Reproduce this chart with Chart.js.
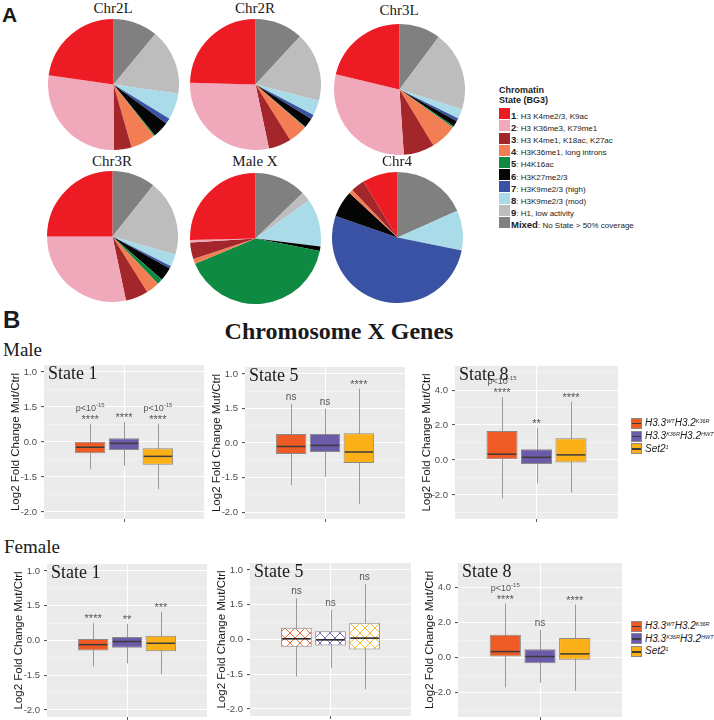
<!DOCTYPE html>
<html>
<head>
<meta charset="utf-8">
<script src="https://cdn.jsdelivr.net/npm/chart.js@4.4.1/dist/chart.umd.min.js"></script>
<style>
  body { margin: 0; width: 714px; height: 720px; position: relative; background: #fff; overflow: hidden; }
  canvas { position: absolute; }
  .t { position: absolute; white-space: nowrap; line-height: 1; color: #1a1a1a; }
  .sw { position: absolute; }
  sup { font-size: 0.55em; vertical-align: 0.6em; line-height: 0; }
</style>
</head>
<body>
<script>
// ---------- data ----------
// chromatin states, legend order
const stateNums = ['1', '2', '3', '4', '5', '6', '7', '8', '9', 'Mixed'];
const stateNames = ['H3 K4me2/3, K9ac', 'H3 K36me3, K79me1', 'H3 K4me1, K18ac, K27ac', 'H3K36me1, long introns',
  'H4K16ac', 'H3K27me2/3', 'H3K9me2/3 (high)', 'H3K9me2/3 (mod)', 'H1, low activity', 'No State > 50% coverage'];
const stateColors = ['#ED1C24', '#F0A9BA', '#A3262B', '#F37E54', '#0E8A43', '#050505', '#3A52A3', '#A9DBE9', '#BDBDBD', '#808080'];

// % of each chromosome in each state (same order as above)
const chromosomes = ['Chr2L', 'Chr2R', 'Chr3L', 'Chr3R', 'Male X', 'Chr4'];
const chr2L = [22.7, 27.3, 4.4, 6.1, 0.3, 4.0, 1.4, 6.5, 16.2, 11.0];
const chr2R = [24.6, 28.7, 5.6, 4.7, 0.2, 2.4, 1.1, 3.7, 17.1, 11.9];
const chr3L = [21.3, 29.8, 7.6, 6.5, 0.4, 1.4, 0.8, 2.4, 19.7, 10.2];
const chr3R = [25.0, 28.3, 5.6, 3.3, 1.4, 3.3, 0.6, 3.0, 18.8, 10.7];
const maleX = [25.4, 0.6, 4.1, 1.2, 40.7, 1.1, 0.0, 11.8, 2.4, 12.8];
const chr4 = [8.7, 0.0, 3.4, 1.0, 0.0, 6.6, 52.1, 9.9, 0.0, 18.3];

// box plots: [lower whisker, Q1, median, Q3, upper whisker] per genotype
const genotypes = ['H3.3<sup>WT</sup>H3.2<sup>K36R</sup>', 'H3.3<sup>K36R</sup>H3.2<sup>HWT</sup>', 'Set2<sup>1</sup>'];
const genoColors = ['#EF5B24', '#6C5BA8', '#FCB017'];
const male1 = [[-0.78, -0.32, -0.15, 0.01, 0.52], [-0.68, -0.23, -0.04, 0.11, 0.58], [-1.35, -0.65, -0.41, -0.18, 0.52]];
const male5 = [[-1.22, -0.32, -0.10, 0.26, 1.13], [-0.98, -0.26, -0.07, 0.26, 0.99], [-1.76, -0.58, -0.26, 0.28, 1.57]];
const male8 = [[-2.19, 0.04, 0.33, 1.66, 3.60], [-1.33, -0.23, 0.15, 0.61, 1.85], [-1.87, -0.15, 0.29, 1.24, 3.33]];
const female1 = [[-0.75, -0.29, -0.12, 0.04, 0.50], [-0.66, -0.21, -0.03, 0.10, 0.48], [-0.97, -0.31, -0.08, 0.14, 0.82]];
const female5 = [[-1.06, -0.21, 0.02, 0.34, 1.18], [-0.82, -0.17, -0.01, 0.24, 0.85], [-1.43, -0.29, 0.04, 0.48, 1.59]];
const female8 = [[-1.69, 0.06, 0.34, 1.30, 3.07], [-1.43, -0.32, 0.06, 0.48, 1.58], [-1.89, -0.13, 0.21, 1.11, 3.01]];
const male1Sig = ['****', '****', '****'];
const male5Sig = ['ns', 'ns', '****'];
const male8Sig = ['****', '**', '****'];
const female1Sig = ['****', '**', '***'];
const female5Sig = ['ns', 'ns', 'ns'];
const female8Sig = ['****', 'ns', '****'];
const male1P = [true, false, true];
const male8P = [true, false, false];
const female8P = [true, false, false];
const noP = [false, false, false];

// y tick labels (as printed in the figure)
const foldTicks = [-2, -1, 0, 1, 2];
const foldTickLabels = ['-2.0', '-1.5', '0.0', '1.5', '1.0'];
const s8Ticks = [-2, 0, 2, 4];
const s8TickLabels = ['-2.0', '0.0', '2.0', '4.0'];

// ---------- helpers ----------
function text(html, x, base, size, font, align) {
  const d = document.createElement('div');
  d.className = 't';
  d.innerHTML = html;
  d.style.font = font.replace('SZ', size + 'px');
  d.style.lineHeight = '1';
  d.style.top = (base - 0.84 * size) + 'px';
  d.style.left = x + 'px';
  if (align === 'center') d.style.transform = 'translateX(-50%)';
  document.body.appendChild(d);
  return d;
}
function makeCanvas(x, y, w, h) {
  const c = document.createElement('canvas');
  c.width = w; c.height = h;
  c.style.left = x + 'px'; c.style.top = y + 'px';
  document.body.appendChild(c);
  return c;
}
const SERIF = 'SZ "Liberation Serif", serif';
const SANS = 'SZ "Liberation Sans", Arial, sans-serif';

// ---------- panel A: pies ----------
text('A', 2, 22, 21, 'bold ' + SANS);
const pieData = [chr2L, chr2R, chr3L, chr3R, maleX, chr4];
const pieCenters = [[113, 84], [255, 84], [399, 89], [112, 236], [255, 238], [397, 237]];
const titleBase = [14, 14, 16, 167, 167, 167];
pieData.forEach((vals, i) => {
  const [cx, cy] = pieCenters[i];
  text(chromosomes[i], cx, titleBase[i], 15, SERIF, 'center');
  const cv = makeCanvas(cx - 65.5, cy - 65.5, 131, 131);
  new Chart(cv, {
    type: 'pie',
    data: {
      labels: stateNums.slice().reverse(),
      datasets: [{
        data: vals.slice().reverse(),
        backgroundColor: stateColors.slice().reverse(),
        borderWidth: 0
      }]
    },
    options: {
      responsive: false,
      animation: false,
      layout: { padding: 0 },
      plugins: { legend: { display: false }, tooltip: { enabled: false } }
    }
  });
});

// chromatin state legend
text('Chromatin', 499, 93.5, 9, 'bold ' + SANS);
text('State (BG3)', 499, 104, 9, 'bold ' + SANS);
stateNums.forEach((n, i) => {
  const top = 108.3 + 12.1 * i;
  const s = document.createElement('div');
  s.className = 'sw';
  s.style.cssText = `left:499px;top:${top}px;width:10.5px;height:11px;background:${stateColors[i]}`;
  document.body.appendChild(s);
  text(`<b style="font-size:9.5px">${n}</b>: ${stateNames[i]}`, 511, top + 9.5, 8, SANS).style.color = '#222';
});

// ---------- panel B: box plots ----------
text('B', 3, 328, 24, 'bold ' + SANS);
text('Chromosome X Genes', 339, 339, 24, 'bold ' + SERIF, 'center');
text('Male', 3, 356, 19, SERIF);
text('Female', 4, 552.7, 19, SERIF);

function hatch(color) {
  const c = document.createElement('canvas');
  c.width = 10; c.height = 10;
  const g = c.getContext('2d');
  g.fillStyle = '#fff';
  g.fillRect(0, 0, 10, 10);
  g.strokeStyle = color;
  g.lineWidth = 0.9;
  g.beginPath();
  g.moveTo(0, 0); g.lineTo(10, 10);
  g.moveTo(10, 0); g.lineTo(0, 10);
  g.stroke();
  return g.createPattern(c, 'repeat');
}

function boxChart(left, top, w, h, title, boxes, sig, pvals, state8, hatched) {
  const yw = 40, pt = 0, xh = 8, pr = 2;
  const cv = makeCanvas(left - yw, top - pt, yw + w + pr, pt + h + xh);
  const tickVals = state8 ? s8Ticks : foldTicks;
  const tickLabs = state8 ? s8TickLabels : foldTickLabels;
  const allTicks = [];
  if (state8) { for (let v = -3; v <= 5; v++) allTicks.push(v); }
  else { for (let v = -2; v <= 2.001; v += 0.5) allTicks.push(Math.round(v * 2) / 2); }

  const plugin = {
    id: 'boxes',
    beforeDraw(chart) {
      const a = chart.chartArea, ctx = chart.ctx;
      ctx.save();
      ctx.fillStyle = '#EBEBEB';
      ctx.fillRect(a.left, a.top, a.right - a.left, a.bottom - a.top);
      ctx.restore();
    },
    beforeDatasetsDraw(chart) {
      const ctx = chart.ctx, ys = chart.scales.y;
      ctx.save();
      ctx.strokeStyle = '#9a9a9a';
      ctx.lineWidth = 1;
      boxes.forEach((b, i) => {
        const x = Math.round(chart.getDatasetMeta(i).data[0].x) + 0.5;
        ctx.beginPath();
        ctx.moveTo(x, ys.getPixelForValue(b[4]));
        ctx.lineTo(x, ys.getPixelForValue(b[0]));
        ctx.stroke();
      });
      ctx.restore();
    },
    afterDatasetsDraw(chart) {
      const ctx = chart.ctx, ys = chart.scales.y, a = chart.chartArea;
      ctx.save();
      boxes.forEach((b, i) => {
        const bar = chart.getDatasetMeta(i).data[0];
        const x = bar.x, hw = bar.width / 2;
        const my = ys.getPixelForValue(b[2]);
        ctx.strokeStyle = hatched ? '#1a1a1a' : '#3b3b3b';
        ctx.lineWidth = 1.5;
        ctx.beginPath();
        ctx.moveTo(x - hw + 1, my); ctx.lineTo(x + hw - 1, my);
        ctx.stroke();
        // significance labels
        const hy = ys.getPixelForValue(b[4]);
        ctx.fillStyle = '#555';
        ctx.textAlign = 'center';
        ctx.textBaseline = 'alphabetic';
        if (sig[i] === 'ns') {
          ctx.font = '10px "Liberation Sans", Arial';
          ctx.fillText('ns', x, hy - 4);
        } else {
          ctx.font = '11px "Liberation Sans", Arial';
          ctx.fillText(sig[i], x, hy - 1);
        }
        if (pvals[i]) {
          ctx.font = '9px "Liberation Sans", Arial';
          const w1 = ctx.measureText('p<10').width;
          ctx.font = '6px "Liberation Sans", Arial';
          const w2 = ctx.measureText('-15').width;
          const sx = x - (w1 + w2) / 2;
          ctx.textAlign = 'left';
          ctx.font = '9px "Liberation Sans", Arial';
          ctx.fillText('p<10', sx, hy - 13);
          ctx.font = '6px "Liberation Sans", Arial';
          ctx.fillText('-15', sx + w1, hy - 17);
        }
      });
      // panel title
      ctx.fillStyle = '#1a1a1a';
      ctx.textAlign = 'left';
      ctx.font = '18px "Liberation Serif", serif';
      ctx.fillText(title, a.left + 4, a.top + 13.5);
      ctx.restore();
    }
  };

  new Chart(cv, {
    type: 'bar',
    data: {
      labels: [''],
      datasets: boxes.map((b, i) => ({
        label: genotypes[i],
        data: [[b[1], b[3]]],
        backgroundColor: hatched ? hatch(genoColors[i]) : genoColors[i],
        borderColor: '#8a8a8a',
        borderWidth: 1,
        borderSkipped: false,
        categoryPercentage: 0.635,
        barPercentage: 0.9
      }))
    },
    options: {
      responsive: false,
      animation: false,
      layout: { padding: { top: pt, right: pr, bottom: 0, left: 0 } },
      plugins: { legend: { display: false }, tooltip: { enabled: false } },
      scales: {
        x: {
          grid: { color: '#ffffff', lineWidth: 1, offset: false, tickLength: 3, tickColor: '#555' },
          border: { display: false },
          ticks: { display: true, padding: 0, font: { size: 1 } },
          afterFit(s) { s.height = xh; s.paddingLeft = 0; s.paddingRight = 0; }
        },
        y: {
          min: state8 ? -3.38 : -2.2,
          max: state8 ? 5.38 : 2.2,
          afterBuildTicks(s) { s.ticks = allTicks.map(v => ({ value: v })); },
          afterFit(s) { s.width = yw; s.paddingTop = 0; s.paddingBottom = 0; },
          grid: {
            color: c => tickVals.includes(c.tick.value) ? '#ffffff' : '#f7f7f7',
            lineWidth: c => tickVals.includes(c.tick.value) ? 1.1 : 0.6,
            tickColor: c => tickVals.includes(c.tick.value) ? '#555' : 'rgba(0,0,0,0)',
            tickLength: 3
          },
          border: { display: false },
          ticks: {
            padding: 4,
            color: '#4D4D4D',
            font: { family: '"Liberation Sans", Arial', size: 9.5 },
            callback: v => { const k = tickVals.indexOf(v); return k >= 0 ? tickLabs[k] : ''; }
          },
          title: {
            display: true,
            text: 'Log2 Fold Change Mut/Ctrl',
            color: '#1a1a1a',
            font: { family: '"Liberation Sans", Arial', size: 11.5 },
            padding: { top: 5, bottom: 0 }
          }
        }
      }
    },
    plugins: [plugin]
  });
}

boxChart(44, 365, 160, 154, 'State 1', male1, male1Sig, male1P, false, false);
boxChart(245, 367, 160, 152, 'State 5', male5, male5Sig, noP, false, false);
boxChart(455, 366, 163, 153, 'State 8', male8, male8Sig, male8P, true, false);
boxChart(47, 564, 160, 153, 'State 1', female1, female1Sig, noP, false, false);
boxChart(250, 563, 161, 153, 'State 5', female5, female5Sig, noP, false, true);
boxChart(458, 563, 164, 154, 'State 8', female8, female8Sig, female8P, true, false);

// genotype legends
function genoLegend(firstCenter) {
  genoColors.forEach((c, i) => {
    const cy = firstCenter + 12.8 * i;
    const s = document.createElement('div');
    s.className = 'sw';
    s.style.cssText = `left:631px;top:${cy - 5}px;width:9px;height:9px;background:${c};border:1px solid #8a8a8a`;
    const m = document.createElement('div');
    m.style.cssText = 'position:absolute;left:0;right:0;top:4px;height:1.5px;background:#3b3b3b';
    s.appendChild(m);
    document.body.appendChild(s);
    text(genotypes[i], 645, cy + 3.6, 10, 'italic ' + SANS).style.color = '#222';
  });
}
genoLegend(422.7);
genoLegend(625.5);
</script>
</body>
</html>
